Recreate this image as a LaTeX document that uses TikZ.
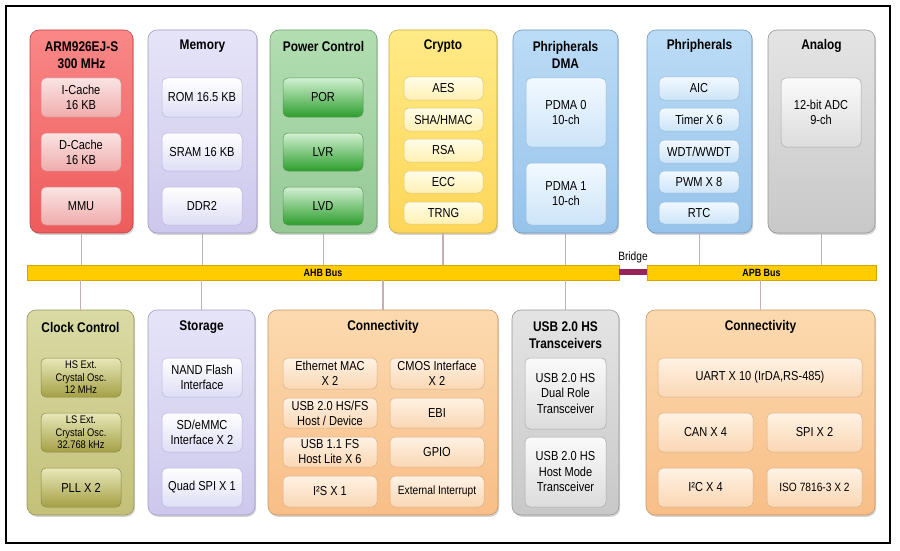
\documentclass[tikz,border=0pt]{standalone}
\usepackage{fontspec}
\setmainfont{Liberation Sans}[FakeStretch=0.85]
\usetikzlibrary{shadows}
\definecolor{armT}{RGB}{250,135,135}\definecolor{armB}{RGB}{238,92,92}\definecolor{armD}{RGB}{190,70,70}
\definecolor{armiT}{RGB}{250,228,228}\definecolor{armiB}{RGB}{240,172,172}\definecolor{armiD}{RGB}{215,140,140}
\definecolor{memT}{RGB}{230,228,248}\definecolor{memB}{RGB}{205,200,236}\definecolor{memD}{RGB}{160,155,195}
\definecolor{memiT}{RGB}{255,255,255}\definecolor{memiB}{RGB}{222,222,246}\definecolor{memiD}{RGB}{185,180,220}
\definecolor{pwrT}{RGB}{178,222,178}\definecolor{pwrB}{RGB}{150,200,150}\definecolor{pwrD}{RGB}{110,160,110}
\definecolor{pwriT}{RGB}{210,240,210}\definecolor{pwriB}{RGB}{45,158,45}\definecolor{pwriD}{RGB}{90,150,90}
\definecolor{cryT}{RGB}{255,234,135}\definecolor{cryB}{RGB}{253,214,88}\definecolor{cryD}{RGB}{200,170,60}
\definecolor{cryiT}{RGB}{255,253,232}\definecolor{cryiB}{RGB}{255,240,180}\definecolor{cryiD}{RGB}{220,200,120}
\definecolor{bluT}{RGB}{188,220,246}\definecolor{bluB}{RGB}{150,195,235}\definecolor{bluD}{RGB}{110,150,190}
\definecolor{bluiT}{RGB}{242,249,255}\definecolor{bluiB}{RGB}{205,228,248}\definecolor{bluiD}{RGB}{150,185,215}
\definecolor{gryT}{RGB}{228,228,228}\definecolor{gryB}{RGB}{200,200,200}\definecolor{gryD}{RGB}{150,150,150}
\definecolor{gryiT}{RGB}{250,250,250}\definecolor{gryiB}{RGB}{220,220,220}\definecolor{gryiD}{RGB}{170,170,170}
\definecolor{olvT}{RGB}{218,218,165}\definecolor{olvB}{RGB}{195,193,120}\definecolor{olvD}{RGB}{150,150,90}
\definecolor{olviT}{RGB}{232,232,185}\definecolor{olviB}{RGB}{165,160,70}\definecolor{olviD}{RGB}{140,135,70}
\definecolor{pchT}{RGB}{252,218,175}\definecolor{pchB}{RGB}{248,190,135}\definecolor{pchD}{RGB}{200,150,100}
\definecolor{pchiT}{RGB}{255,242,228}\definecolor{pchiB}{RGB}{250,215,180}\definecolor{pchiD}{RGB}{215,175,135}
\definecolor{busY}{RGB}{255,204,0}\definecolor{busD}{RGB}{215,165,0}
\definecolor{brg}{RGB}{150,35,90}
\definecolor{conn}{RGB}{195,175,180}
\tikzset{
 outer/.style={rounded corners=9pt,line width=0.6pt,inner sep=0pt,
   drop shadow={shadow xshift=1.2pt,shadow yshift=-1.8pt,opacity=0.35}},
 inner/.style={rounded corners=5pt,line width=0.5pt,inner sep=0pt,align=center,
   font=\fontsize{13}{15}\selectfont},
 smallin/.style={inner,font=\fontsize{11}{12.5}\selectfont},
 o/.style args={#1}{outer,draw=#1D,top color=#1T,bottom color=#1B},
 in/.style args={#1}{inner,draw=#1iD,top color=#1iT,bottom color=#1iB},
 ttl/.style={align=center,font=\bfseries\fontsize{14}{16.5}\selectfont,inner sep=0pt},
 link/.style={draw=conn,line width=1.2pt},
 bus/.style={fill=busY,draw=busD,line width=0.5pt,inner sep=0pt,font=\bfseries\fontsize{10.5}{11}\selectfont},
}
\newcommand\mkbox[7]{\node[#1,minimum width={#5-#3},minimum height={#6-#4}] (#2) at ({(#3+#5)/2},{(#4+#6)/2}) {#7};}
\begin{document}
\begin{tikzpicture}[x=1pt,y=-1pt]
\useasboundingbox (0,0) rectangle (900,551);
\draw[line width=1.2pt] (6,6) rectangle (890,543);
% bus
\mkbox{bus}{ahb}{27}{265}{619}{280}{AHB Bus}
\mkbox{bus}{apb}{647}{265}{876}{280}{APB Bus}
\mkbox{fill=brg,inner sep=0pt}{brg}{619}{269}{647}{275}{}
\node[font=\fontsize{12}{13}\selectfont,inner sep=0pt] (brgl) at (633,257) {Bridge};
% top blocks
\mkbox{o=arm}{arm}{30}{30}{133}{233}{}
\mkbox{o=mem}{mem}{148}{30}{257}{233}{}
\mkbox{o=pwr}{pwr}{270}{30}{377}{233}{}
\mkbox{o=cry}{cry}{389}{30}{497}{233}{}
\mkbox{o=blu}{pdma}{513}{30}{618}{233}{}
\mkbox{o=blu}{per}{647}{30}{752}{233}{}
\mkbox{o=gry}{ana}{768}{30}{875}{233}{}
% bottom blocks
\mkbox{o=olv}{clk}{27}{310}{134}{515}{}
\mkbox{o=mem}{sto}{148}{310}{255}{515}{}
\mkbox{o=pch}{conA}{268}{310}{498}{515}{}
\mkbox{o=gry}{usb}{512}{310}{619}{515}{}
\mkbox{o=pch}{conB}{646}{310}{875}{515}{}
% connectors
\foreach \n in {arm,mem,pwr,cry,pdma}{\draw[link] (\n.south) -- (\n.south |- ahb.north);}
\foreach \n in {per,ana}{\draw[link] (\n.south) -- (\n.south |- apb.north);}
\foreach \n in {clk,sto,conA,usb}{\draw[link] (\n.north) -- (\n.north |- ahb.south);}
\draw[link] (conB.north) -- (conB.north |- apb.south);
% titles
\node[ttl] (armt) at (81.5,55) {ARM926EJ-S\\300 MHz};
\node[ttl] (memt) at (202.5,46) {Memory};
\node[ttl] (pwrt) at (323.5,46) {Power Control};
\node[ttl] (cryt) at (443,46) {Crypto};
\node[ttl] (pdmat) at (565.5,55) {Phripherals\\DMA};
\node[ttl] (pert) at (699.5,46) {Phripherals};
\node[ttl] (anat) at (821.5,46) {Analog};
\node[ttl] (clkt) at (80.5,327) {Clock Control};
\node[ttl] (stot) at (201.5,327) {Storage};
\node[ttl] (conAt) at (383,327) {Connectivity};
\node[ttl] (usbt) at (565.5,335) {USB 2.0 HS\\Transceivers};
\node[ttl] (conBt) at (760.5,327) {Connectivity};
% ARM
\mkbox{in=arm}{ic}{41}{78}{121}{117}{I-Cache\\16 KB}
\mkbox{in=arm}{dc}{41}{133}{121}{171}{D-Cache\\16 KB}
\mkbox{in=arm}{mmu}{41}{187}{121}{225}{MMU}
% Memory
\mkbox{in=mem}{rom}{162}{78}{242}{117}{ROM 16.5 KB}
\mkbox{in=mem}{sram}{162}{133}{242}{171}{SRAM 16 KB}
\mkbox{in=mem}{ddr}{162}{187}{242}{225}{DDR2}
% Power
\mkbox{in=pwr}{por}{283}{78}{363}{117}{POR}
\mkbox{in=pwr}{lvr}{283}{133}{363}{171}{LVR}
\mkbox{in=pwr}{lvd}{283}{187}{363}{225}{LVD}
% Crypto
\mkbox{in=cry}{aes}{404}{77}{483}{100}{AES}
\mkbox{in=cry}{sha}{404}{108}{483}{131}{SHA/HMAC}
\mkbox{in=cry}{rsa}{404}{139}{483}{162}{RSA}
\mkbox{in=cry}{ecc}{404}{171}{483}{193}{ECC}
\mkbox{in=cry}{trng}{404}{202}{483}{224}{TRNG}
% PDMA
\mkbox{in=blu}{pd0}{526}{78}{606}{147}{PDMA 0\\10-ch}
\mkbox{in=blu}{pd1}{526}{163}{606}{225}{PDMA 1\\10-ch}
% Peripherals
\mkbox{in=blu}{aic}{659}{77}{739}{100}{AIC}
\mkbox{in=blu}{tmr}{659}{108}{739}{131}{Timer X 6}
\mkbox{in=blu}{wdt}{659}{140}{739}{163}{WDT/WWDT}
\mkbox{in=blu}{pwm}{659}{171}{739}{193}{PWM X 8}
\mkbox{in=blu}{rtc}{659}{202}{739}{224}{RTC}
% Analog
\mkbox{in=gry}{adc}{781}{78}{861}{147}{12-bit ADC\\9-ch}
% Clock
\mkbox{in=olv,smallin}{hs}{41}{358}{121}{397}{HS Ext.\\Crystal Osc.\\12 MHz}
\mkbox{in=olv,smallin}{ls}{41}{413}{121}{452}{LS Ext.\\Crystal Osc.\\32.768 kHz}
\mkbox{in=olv}{pll}{41}{468}{121}{507}{PLL X 2}
% Storage
\mkbox{in=mem}{nand}{162}{358}{242}{397}{NAND Flash\\Interface}
\mkbox{in=mem}{sd}{162}{413}{242}{452}{SD/eMMC\\Interface X 2}
\mkbox{in=mem}{qspi}{162}{468}{242}{507}{Quad SPI X 1}
% Connectivity A
\mkbox{in=pch}{eth}{283}{358}{377}{389}{Ethernet MAC\\X 2}
\mkbox{in=pch}{cmos}{390}{358}{484}{389}{CMOS Interface\\X 2}
\mkbox{in=pch}{usbhs}{283}{398}{377}{428}{USB 2.0 HS/FS\\Host / Device}
\mkbox{in=pch}{ebi}{390}{398}{484}{428}{EBI}
\mkbox{in=pch}{usbfs}{283}{437}{377}{467}{USB 1.1 FS\\Host Lite X 6}
\mkbox{in=pch}{gpio}{390}{437}{484}{467}{GPIO}
\mkbox{in=pch}{i2s}{283}{476}{377}{507}{I²S X 1}
\mkbox{in=pch,font=\fontsize{12}{13}\selectfont}{eint}{390}{476}{484}{507}{External Interrupt}
% USB transceivers
\mkbox{in=gry,font=\fontsize{13}{15.5}\selectfont}{dual}{525}{358}{606}{429}{USB 2.0 HS\\Dual Role\\Transceiver}
\mkbox{in=gry,font=\fontsize{13}{15.5}\selectfont}{host}{525}{437}{606}{507}{USB 2.0 HS\\Host Mode\\Transceiver}
% Connectivity B
\mkbox{in=pch}{uart}{658}{358}{862}{397}{UART X 10 (IrDA,RS-485)}
\mkbox{in=pch}{can}{658}{413}{753}{452}{CAN X 4}
\mkbox{in=pch}{spi}{767}{413}{862}{452}{SPI X 2}
\mkbox{in=pch}{i2c}{658}{468}{753}{507}{I²C X 4}
\mkbox{in=pch,font=\fontsize{12}{13}\selectfont}{iso}{767}{468}{862}{507}{ISO 7816-3 X 2}
\end{tikzpicture}
\end{document}
